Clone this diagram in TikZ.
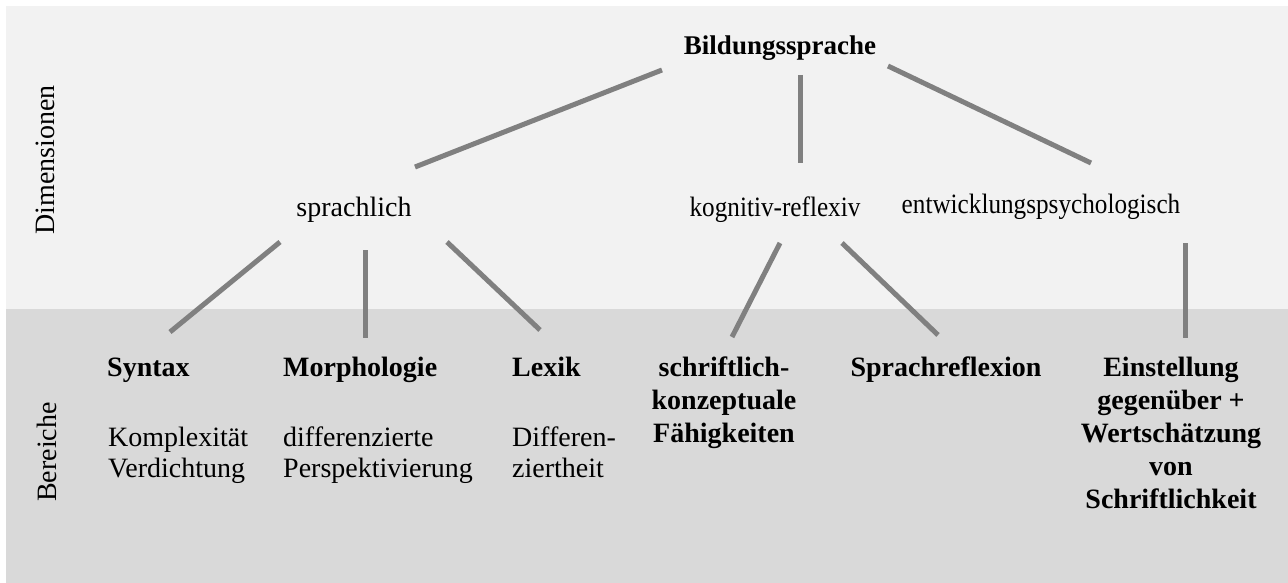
\documentclass[tikz,border=0pt]{standalone}
\usepackage{fontspec}
\setmainfont{Liberation Serif}
\begin{document}
\begin{tikzpicture}[x=1pt,y=-1pt,
  lbl/.style={inner sep=0pt,anchor=base,font=\fontsize{28}{31}\selectfont},
  hd/.style={lbl,font=\fontsize{28}{33}\selectfont\bfseries},
  link/.style={draw=black!50,line width=5pt}]
\useasboundingbox (0,0) rectangle (1288,583);
% background bands
\fill[black!5] (6,6) rectangle (1288,309);
\fill[black!15] (6,309) rectangle (1288,583);
% side labels
\node[lbl,anchor=center,rotate=90] (dim) at (45,160) {Dimensionen};
\node[lbl,anchor=center,rotate=90] (ber) at (47,452) {Bereiche};
% root and dimensions
\node[lbl,font=\fontsize{27}{30}\selectfont\bfseries] (root) at (780,55) {Bildungssprache};
\node[lbl] (spr) at (354,216) {sprachlich};
\node[lbl,xscale=0.9] (kog) at (775,216) {kognitiv-reflexiv};
\node[lbl,xscale=0.9] (ent) at (1041,213) {entwicklungspsychologisch};
% areas (multi-line nodes are placed by the baseline of their last line)
\node[hd,anchor=base west] (syn) at (107,376) {Syntax};
\node[hd,anchor=base west] (mor) at (283,376) {Morphologie};
\node[hd,anchor=base west] (lex) at (512,376) {Lexik};
\node[lbl,anchor=base west,align=left] (synt) at (108,477) {Komplexität\\Verdichtung};
\node[lbl,anchor=base west,align=left] (mort) at (283,477) {differenzierte\\Perspektivierung};
\node[lbl,anchor=base west,align=left] (lext) at (512,477) {Differen-\\ziertheit};
\node[hd,align=center] (sch) at (724,442) {schriftlich-\\konzeptuale\\Fähigkeiten};
\node[hd] (ref) at (946,376) {Sprachreflexion};
\node[hd,align=center] (ein) at (1171,508) {Einstellung\\gegenüber +\\Wertschätzung\\von\\Schriftlichkeit};
% connector end points
\coordinate (r1) at (662,70);   \coordinate (d1) at (415,167);
\coordinate (r2) at (800,75);   \coordinate (d2) at (800,163);
\coordinate (r3) at (888,66);   \coordinate (d3) at (1091,163);
\coordinate (s1) at (280,242);  \coordinate (a1) at (170,332);
\coordinate (s2) at (365,250);  \coordinate (a2) at (365,338);
\coordinate (s3) at (447,242);  \coordinate (a3) at (540,330);
\coordinate (k1) at (780,243);  \coordinate (a4) at (732,337);
\coordinate (k2) at (842,243);  \coordinate (a5) at (938,335);
\coordinate (e1) at (1185,243); \coordinate (a6) at (1185,338);
% connectors
\draw[link] (r1) -- (d1);
\draw[link] (r2) -- (d2);
\draw[link] (r3) -- (d3);
\draw[link] (s1) -- (a1);
\draw[link] (s2) -- (a2);
\draw[link] (s3) -- (a3);
\draw[link] (k1) -- (a4);
\draw[link] (k2) -- (a5);
\draw[link] (e1) -- (a6);
\end{tikzpicture}
\end{document}
